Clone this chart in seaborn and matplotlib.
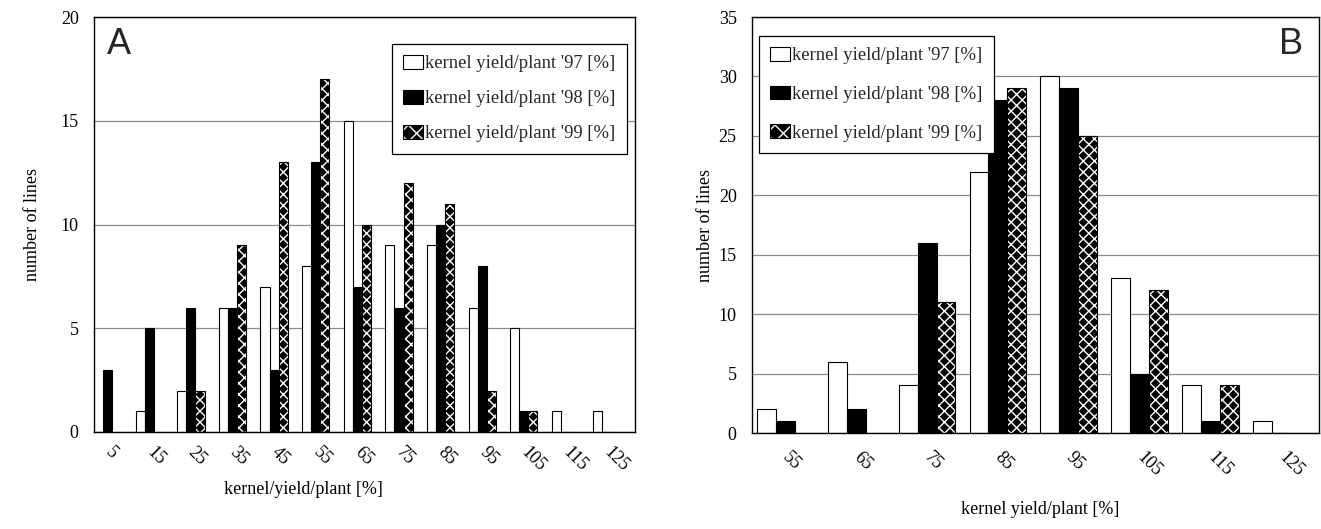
import pandas as pd
import matplotlib.pyplot as plt
import seaborn as sns
from matplotlib.patches import Rectangle, Patch
from matplotlib.legend_handler import HandlerTuple

# Data
years = ["kernel yield/plant '97 [%]", "kernel yield/plant '98 [%]", "kernel yield/plant '99 [%]"]

bins_a = ['5', '15', '25', '35', '45', '55', '65', '75', '85', '95', '105', '115', '125']
a_97 = [0, 1, 2, 6, 7, 8, 15, 9, 9, 6, 5, 1, 1]
a_98 = [3, 5, 6, 6, 3, 13, 7, 6, 10, 8, 1, 0, 0]
a_99 = [0, 0, 2, 9, 13, 17, 10, 12, 11, 2, 1, 0, 0]

bins_b = ['55', '65', '75', '85', '95', '105', '115', '125']
b_97 = [2, 6, 4, 22, 30, 13, 4, 1]
b_98 = [1, 2, 16, 28, 29, 5, 1, 0]
b_99 = [0, 0, 11, 29, 25, 12, 4, 0]


def long_df(bins, series):
    rows = []
    for name, vals in zip(years, series):
        for b, v in zip(bins, vals):
            rows.append({'bin': b, 'year': name, 'count': v})
    return pd.DataFrame(rows)


sns.set_theme(style='white')
plt.rcParams['font.family'] = ['Liberation Serif', 'DejaVu Serif']
plt.rcParams['hatch.linewidth'] = 1.0

fig = plt.figure(figsize=(13.21, 5.29), dpi=100)
ax_a = fig.add_axes([94 / 1321, 1 - 432 / 529, 541 / 1321, 415 / 529])
ax_b = fig.add_axes([752 / 1321, 1 - 433 / 529, 567 / 1321, 416 / 529])

palette = ['white', 'black', 'black']
HATCH = 'xxx'


def draw_panel(ax, bins, series, width, left_off, ymax, xlabel, xpad, xlab_xy, ylabpad,
               legend_loc, legend_anchor, lspace, bpad):
    df = long_df(bins, series)
    sns.barplot(data=df, x='bin', y='count', hue='year', palette=palette, width=width,
                edgecolor='black', linewidth=0.8, errorbar=None, legend=False, ax=ax)
    # cross-hatched '99 bars: white crosses on black, black outline
    for p in ax.containers[2]:
        p.set_hatch(HATCH)
        p.set_edgecolor('white')
        p.set_linewidth(0)
        if p.get_height() > 0:
            ax.add_patch(Rectangle((p.get_x(), p.get_y()), p.get_width(), p.get_height(),
                                   fill=False, edgecolor='black', linewidth=0.8, zorder=p.get_zorder() + 0.1))
    ax.set_xlim(-width / 2 - left_off, len(bins) - width / 2 - left_off)
    ax.set_ylim(0, ymax)
    ax.set_yticks(range(0, ymax + 1, 5))
    ax.yaxis.grid(True, color='#8c8c8c', linewidth=0.9)
    ax.xaxis.grid(False)
    ax.set_axisbelow(True)
    for s in ax.spines.values():
        s.set_color('black')
        s.set_linewidth(1.0)
    ax.tick_params(axis='y', length=0, pad=11, labelsize=13, colors='black')
    ax.tick_params(axis='x', length=0, pad=xpad, labelsize=13, colors='black')
    for lab in ax.get_xticklabels():
        lab.set_rotation(-45)
        lab.set_ha('left')
        lab.set_va('center')
        lab.set_rotation_mode('anchor')
    ax.set_xlabel(xlabel, fontsize=13, color='black')
    ax.xaxis.set_label_coords(*xlab_xy)
    ax.set_ylabel('number of lines', fontsize=13, labelpad=ylabpad, color='black')

    h97 = Patch(facecolor='white', edgecolor='black', linewidth=0.8)
    h98 = Patch(facecolor='black', edgecolor='black', linewidth=0.8)
    h99 = (Patch(facecolor='black', edgecolor='white', linewidth=0, hatch='xx'),
           Patch(facecolor='none', edgecolor='black', linewidth=0.8))
    leg = ax.legend([h97, h98, h99], years, loc=legend_loc, bbox_to_anchor=legend_anchor,
                    handler_map={tuple: HandlerTuple(ndivide=1)},
                    fontsize=13.4, frameon=True, fancybox=False, framealpha=1,
                    edgecolor='black', borderpad=bpad, labelspacing=lspace,
                    handlelength=1.1, handleheight=0.75, handletextpad=0.1, borderaxespad=0)
    leg.get_frame().set_linewidth(0.9)
    return ax


draw_panel(ax_a, bins_a, [a_97, a_98, a_99], 0.656, 0.0, 20, 'kernel/yield/plant [%]', 13,
           (0.388, -0.118), 14, 'upper right', (0.985, 0.935), 0.95, 0.6)
ax_a.text(0.024, 0.975, 'A', transform=ax_a.transAxes, fontsize=26, family='Liberation Sans',
          va='top', ha='left')

draw_panel(ax_b, bins_b, [b_97, b_98, b_99], 0.8, 0.07, 35, 'kernel yield/plant [%]', 16,
           (0.508, -0.163), 3, 'upper left', (0.012, 0.955), 1.15, 0.6)
ax_b.text(0.972, 0.975, 'B', transform=ax_b.transAxes, fontsize=26, family='Liberation Sans',
          va='top', ha='right')

plt.savefig('out.png', dpi=100)
